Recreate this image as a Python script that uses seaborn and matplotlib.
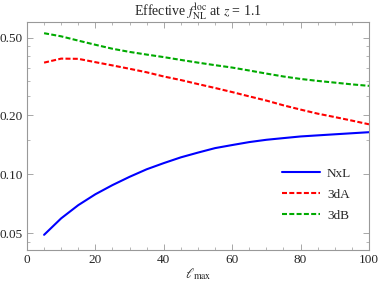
import numpy as np
import pandas as pd
import matplotlib
matplotlib.use("Agg")
import matplotlib.pyplot as plt
import matplotlib.ticker as mticker
import seaborn as sns

# values
l_max = [5, 10, 15, 20, 25, 30, 35, 40, 45, 50, 55, 60, 65, 70, 75, 80, 85, 90, 95, 100]
nxl = [0.049, 0.0595, 0.0695, 0.079, 0.088, 0.097, 0.106, 0.114, 0.122, 0.129,
       0.136, 0.141, 0.146, 0.150, 0.153, 0.156, 0.158, 0.160, 0.162, 0.164]
f3da = [0.372, 0.390, 0.389, 0.374, 0.360, 0.346, 0.332, 0.316, 0.303, 0.289,
        0.276, 0.263, 0.250, 0.238, 0.225, 0.214, 0.204, 0.196, 0.188, 0.180]
f3db = [0.526, 0.507, 0.482, 0.459, 0.438, 0.422, 0.409, 0.397, 0.384, 0.372,
        0.361, 0.351, 0.339, 0.327, 0.316, 0.307, 0.300, 0.294, 0.288, 0.283]
series_names = ["NxL", "3dA", "3dB"]
y_ticks = [0.05, 0.10, 0.20, 0.50]


def main():
    sns.set_style("ticks")
    plt.rcParams["font.family"] = ["Liberation Serif", "DejaVu Serif"]
    plt.rcParams["mathtext.fontset"] = "stix"

    df = pd.DataFrame({
        "l_max": l_max * 3,
        "value": nxl + f3da + f3db,
        "series": [s for s in series_names for _ in l_max],
    })

    fig = plt.figure(figsize=(3.79, 2.86), dpi=100)
    ax = fig.add_axes([0.0712, 0.126, 0.9024, 0.797])

    palette = {"NxL": "#0000ff", "3dA": "#ff0000", "3dB": "#00aa00"}
    dashes = {"NxL": "", "3dA": (2.4, 1.1), "3dB": (2.4, 1.1)}
    sns.lineplot(data=df, x="l_max", y="value", hue="series", style="series",
                 palette=palette, dashes=dashes, linewidth=1.5, ax=ax)

    ax.set_yscale("log")
    ax.set_xlim(0, 100)
    ax.set_ylim(0.041, 0.6)
    ax.xaxis.set_major_locator(mticker.MultipleLocator(20))
    ax.xaxis.set_minor_locator(mticker.MultipleLocator(5))
    ax.yaxis.set_major_locator(mticker.FixedLocator(y_ticks))
    ax.yaxis.set_major_formatter(mticker.FixedFormatter([f"{v:.2f}" for v in y_ticks]))
    ax.yaxis.set_minor_locator(mticker.LogLocator(base=10, subs=np.arange(2, 10) * 0.5))
    ax.yaxis.set_minor_formatter(mticker.NullFormatter())

    for side in ["left", "right", "top", "bottom"]:
        ax.spines[side].set_visible(True)
        ax.spines[side].set_color("#999999")
        ax.spines[side].set_linewidth(0.8)
    ax.tick_params(which="both", direction="in", top=True, right=True,
                   color="#999999", labelsize=9.5, pad=3)
    ax.tick_params(which="major", length=4, width=0.6)
    ax.tick_params(which="minor", length=2, width=0.5)

    ax.set_xlabel(r"$\ell_{\rm max}$", fontsize=10, labelpad=0)
    ax.set_ylabel("")
    ax.set_title(r"Effective $f_{\rm NL}^{\rm loc}$ at $z$ = 1.1", fontsize=10, pad=3)

    ax.legend(title=None, frameon=False, loc="upper left",
              bbox_to_anchor=(0.725, 0.39), fontsize=9.5, handlelength=2.9,
              handletextpad=0.55, labelspacing=0.65, borderpad=0)

    fig.savefig("out.png", dpi=100)


if __name__ == "__main__":
    main()
